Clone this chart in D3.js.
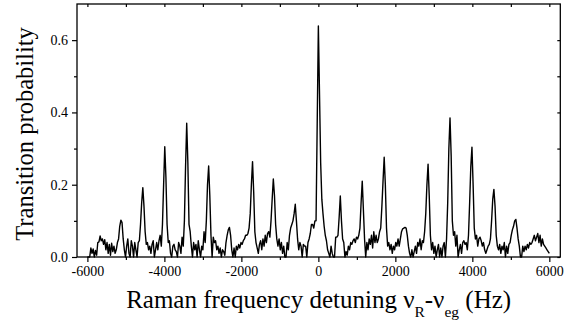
<!DOCTYPE html>
<html>
<head>
<meta charset="utf-8">
<script src="https://cdn.jsdelivr.net/npm/d3@7"></script>
<style>
  html, body { margin: 0; padding: 0; background: #fff; }
  svg { display: block; }
  svg text, svg tspan { font-family: "Liberation Serif", "Times New Roman", Times, serif !important; fill: #000; }
</style>
</head>
<body>
<svg id="chart" width="573" height="321"></svg>
<script>
// ---- data ----
const detuningStart = -6000;   // Hz
const detuningStep = 30;       // Hz sampling step
const probability = [
  0, 0, 0, .025, .01, .022, 0, .018, .005, .04,
  .042, .058, .045, .05, .035, .048, .02, .04, .01, .035,
  .005, .038, .015, .03, .01, .02, .04, .05, .085, .102,
  .095, .05, .02, 0, .03, .05, .01, 0, .045, .03,
  0, .04, .02, 0, .04, .045, .09, .15, .192, .14,
  .07, .035, .04, .02, .03, .01, .035, .045, 0, .02,
  .04, .02, .045, .06, .03, .09, .2, .305, .22, .09,
  .04, .045, .01, 0, .03, .035, .02, .015, 0, .04,
  .03, .01, .055, .03, .1, .25, .37, .26, .09, .07,
  .03, 0, .04, .02, .035, 0, .045, .02, 0, .03,
  .02, .07, .04, .1, .2, .252, .17, .06, 0, .055,
  .04, .045, .02, .03, .01, .025, 0, .02, .015, .005,
  .04, .06, .075, .082, .06, .02, 0, .025, 0, .03,
  .02, .035, .025, .04, .035, .045, .05, .06, .06, .065,
  .08, .12, .2, .264, .18, .07, .04, .025, .01, .035,
  .045, .02, .05, .03, .06, .04, .065, .07, .055, .1,
  .16, .216, .17, .09, .05, .03, .05, .02, .04, .01,
  .03, 0, 0, .04, .02, .06, .08, .09, .1, .12,
  .146, .1, .05, .02, .04, .03, 0, .035, .03, .03,
  0, .04, .05, .065, .09, .09, .08, .1, .1, .37,
  .639, .45, .26, .16, .12, .085, .06, .045, .02, .01,
  0, .03, .01, 0, 0, .055, .055, .06, .11, .169,
  .1, .05, .04, 0, .015, .005, .03, .02, .04, .035,
  .045, .05, .04, .055, .05, .06, .08, .15, .21, .13,
  .05, 0, .04, .02, .05, .035, .06, .025, .07, .04,
  .06, .04, .05, .07, .08, .14, .21, .276, .2, .08,
  .03, .04, .02, .035, .01, .03, .02, .04, .03, .05,
  .03, .05, .07, .078, .08, .082, .08, .06, .03, .01,
  0, .02, 0, .015, .03, .01, .04, .03, .05, .02,
  .045, .04, .07, .12, .2, .257, .17, .06, .02, .04,
  .01, .03, 0, .02, .035, 0, .025, 0, .03, .04,
  0, .05, .15, .3, .385, .28, .1, .06, .07, .03,
  .06, 0, .02, .035, .01, .04, .045, .035, .04, .02,
  .06, .15, .25, .304, .2, .08, .05, .06, .03, .05,
  .055, .045, .03, .04, .02, .01, .02, .03, .035, .05,
  .1, .16, .187, .14, .06, .03, .02, .035, .01, .03,
  .02, .04, 0, .03, .01, .035, .04, .06, .075, .085,
  .1, .104, .08, .05, .03, 0, 0, .03, .015, .03,
  .02, .035, .025, .04, .035, .04, .05, .06, .045, .055,
  .065, .04, .06, .03, .05, .035, .03, .025, .02, .015,
  .01
];
const xTickValues = [-6000, -4000, -2000, 0, 2000, 4000, 6000];
const xMinorTicks = [-5000, -3000, -1000, 1000, 3000, 5000];
const yTickValues = [0.0, 0.2, 0.4, 0.6];
const yMinorTicks = [0.1, 0.3, 0.5];
const xDomain = [-6270, 6285];
const yDomain = [0, 0.7];

const data = probability.map((p, i) => ({ f: detuningStart + i * detuningStep, p }));

// ---- layout ----
const SERIF = '"Liberation Serif", "Times New Roman", Times, serif';
const svg = d3.select("#chart").style("font-family", SERIF);
const L = 77, R = 560.3, T = 4, B = 257;
const x = d3.scaleLinear().domain(xDomain).range([L, R]);
const y = d3.scaleLinear().domain(yDomain).range([B, T]);

function styleAxis(g) {
  g.attr("font-family", null).style("font-family", SERIF);
  g.select(".domain").remove();
  g.selectAll(".tick line").attr("stroke", "#000").attr("stroke-width", 1.2);
  g.selectAll(".tick text").attr("font-size", 14).style("font-family", SERIF).attr("fill", "#000");
}

// bottom axis (major + minor)
svg.append("g").attr("transform", `translate(0,${B})`)
  .call(d3.axisBottom(x).tickValues(xTickValues).tickSize(5).tickPadding(4).tickFormat(d => String(d)))
  .call(styleAxis);
svg.append("g").attr("transform", `translate(0,${B})`)
  .call(d3.axisBottom(x).tickValues(xMinorTicks).tickSize(3).tickFormat(""))
  .call(styleAxis);
// top axis (inward)
svg.append("g").attr("transform", `translate(0,${T})`)
  .call(d3.axisTop(x).tickValues(xTickValues.concat(xMinorTicks)).tickSize(-3).tickFormat(""))
  .call(styleAxis);
// left axis
svg.append("g").attr("transform", `translate(${L},0)`)
  .call(d3.axisLeft(y).tickValues(yTickValues).tickSize(5).tickPadding(4).tickFormat(d3.format(".1f")))
  .call(styleAxis);
svg.append("g").attr("transform", `translate(${L},0)`)
  .call(d3.axisLeft(y).tickValues(yMinorTicks).tickSize(3).tickFormat(""))
  .call(styleAxis);
// right axis (inward)
svg.append("g").attr("transform", `translate(${R},0)`)
  .call(d3.axisRight(y).tickValues(yTickValues.concat(yMinorTicks)).tickSize(-3).tickFormat(""))
  .call(styleAxis);

// frame
svg.append("rect").attr("x", L).attr("y", T).attr("width", R - L).attr("height", B - T)
  .attr("fill", "none").attr("stroke", "#000").attr("stroke-width", 1.3);

// data line
svg.append("path").datum(data)
  .attr("fill", "none").attr("stroke", "#000").attr("stroke-width", 1.4)
  .attr("stroke-linejoin", "round")
  .attr("d", d3.line().x(d => x(d.f)).y(d => y(d.p)));

// axis titles
const xt = svg.append("text").attr("x", (L + R) / 2).attr("y", 308)
  .attr("text-anchor", "middle").attr("font-size", 25).style("font-family", SERIF);
xt.append("tspan").style("font-family", SERIF).text("Raman frequency detuning \u03BD");
xt.append("tspan").style("font-family", SERIF).attr("font-size", 15.5).attr("dy", 8.5).text("R");
xt.append("tspan").style("font-family", SERIF).attr("dy", -8.5).text("-\u03BD");
xt.append("tspan").style("font-family", SERIF).attr("font-size", 15.5).attr("dy", 8.5).text("eg");
xt.append("tspan").style("font-family", SERIF).attr("dy", -8.5).text(" (Hz)");

svg.append("text").attr("transform", `translate(33,134) rotate(-90)`)
  .attr("text-anchor", "middle").attr("font-size", 24.5).style("font-family", SERIF)
  .text("Transition probability");
</script>
</body>
</html>
